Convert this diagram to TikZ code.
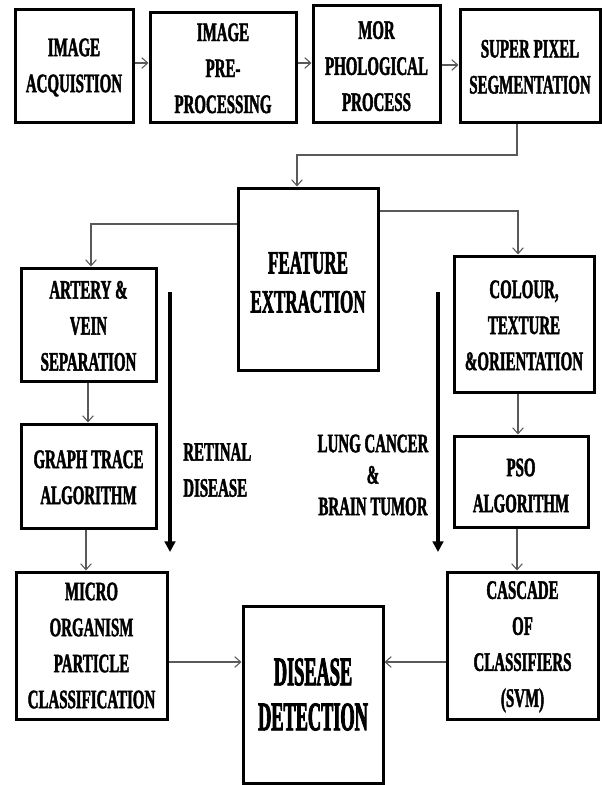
\documentclass[tikz,border=0pt]{standalone}
\usepackage{fontspec}
\setmainfont{Liberation Serif}[UprightFont={* Bold}, FakeStretch=0.56, FakeBold=1.6]
\newfontfamily\featfont{Liberation Serif}[UprightFont={* Bold}, FakeStretch=0.52, FakeBold=1.8]
\newfontfamily\disfont{Liberation Serif}[UprightFont={* Bold}, FakeStretch=0.45, FakeBold=2]
\usetikzlibrary{arrows.meta,fit}
\tikzset{
  box/.style={draw=black, line width=2.25pt, inner sep=0pt},
  txt/.style={inner sep=0pt, align=center, font=\fontsize{20}{27}\selectfont},
  feattxt/.style={txt, font=\featfont\fontsize{24.5}{29.25}\selectfont},
  distxt/.style={txt, font=\disfont\fontsize{30.5}{33.75}\selectfont},
  conn/.style={draw=black!65, line width=0.8pt, -{Straight Barb[length=4.5pt,width=8pt]}},
  bigarrow/.style={draw=black, line width=2.8pt, -{Triangle[length=8pt,width=8pt]}},
}
\begin{document}
\begin{tikzpicture}[x=0.75pt,y=-0.75pt]
\useasboundingbox (0,0) rectangle (602,785);
% boxes
\node[box, fit={(15,9) (133,122)}] (b1) {};
\node[box, fit={(150,12) (296,122)}] (b2) {};
\node[box, fit={(313,5) (440,122)}] (b3) {};
\node[box, fit={(460,9) (600,122)}] (b4) {};
\node[box, fit={(238,188) (378,370)}] (fe) {};
\node[box, fit={(21,268) (156,381)}] (av) {};
\node[box, fit={(454,256) (594,392)}] (co) {};
\node[box, fit={(21,424) (156,528)}] (gt) {};
\node[box, fit={(16,572) (167,719)}] (mo) {};
\node[box, fit={(454,436) (588,527)}] (pso) {};
\node[box, fit={(447,572) (598,719)}] (cas) {};
\node[box, fit={(243,606) (383,783)}] (dd) {};
% box texts
\node[txt] (b1t) at ([yshift=-1.5pt]b1.center) {IMAGE\\ACQUISTION};
\node[txt] (b2t) at ([yshift=-1pt]b2.center) {IMAGE\\PRE-\\PROCESSING};
\node[txt] (b3t) at ([yshift=-2pt]b3.center) {MOR\\PHOLOGICAL\\PROCESS};
\node[txt] (b4t) at ([yshift=-1pt]b4.center) {SUPER PIXEL\\SEGMENTATION};
\node[feattxt] (fet) at ([yshift=-2.5pt]fe.center) {FEATURE\\EXTRACTION};
\node[txt] (avt) at ([yshift=-1pt]av.center) {ARTERY \&\\VEIN\\SEPARATION};
\node[txt] (cot) at ([yshift=-1pt]co.center) {COLOUR,\\TEXTURE\\\&ORIENTATION};
\node[txt] (gtt) at ([yshift=-1pt]gt.center) {GRAPH TRACE\\ALGORITHM};
\node[txt] (mot) at (mo.center) {MICRO\\ORGANISM\\PARTICLE\\CLASSIFICATION};
\node[txt] (psot) at ([yshift=-3pt]pso.center) {PSO\\ALGORITHM};
\node[txt] (cast) at ([yshift=-1pt]cas.center) {CASCADE\\OF\\CLASSIFIERS\\(SVM)};
\node[distxt] (ddt) at (dd.center) {DISEASE\\DETECTION};
% labels
\node[txt, anchor=west, align=left] (ret) at (183,470) {RETINAL\\DISEASE};
\node[txt, font=\fontsize{20}{23.6}\selectfont] (lung) at (373,475) {LUNG CANCER\\\&\\BRAIN TUMOR};
% bend points
\coordinate (h1) at (0,63);
\coordinate (h2) at (0,65);
\coordinate (k1) at (517,155);
\coordinate (k2) at (297,155);
\coordinate (k3) at (91,224);
\coordinate (k4) at (518,211);
\coordinate (v1) at (88,0);
\coordinate (v2) at (86,0);
\coordinate (v3) at (518,0);
\coordinate (v4) at (517,0);
\coordinate (h3) at (0,662);
% connectors
\draw[conn] (b1.east |- h1) -- (b2.west |- h1);
\draw[conn] (b2.east |- h1) -- (b3.west |- h1);
\draw[conn] (b3.east |- h2) -- (b4.west |- h2);
\draw[conn] (k1 |- b4.south) -- (k1) -- (k2) -- (k2 |- fe.north);
\draw[conn] (fe.west |- k3) -- (k3) -- (k3 |- av.north);
\draw[conn] (fe.east |- k4) -- (k4) -- (k4 |- co.north);
\draw[conn] (v1 |- av.south) -- (v1 |- gt.north);
\draw[conn] (v2 |- gt.south) -- (v2 |- mo.north);
\draw[conn] (v3 |- co.south) -- (v3 |- pso.north);
\draw[conn] (v4 |- pso.south) -- (v4 |- cas.north);
\draw[conn] (mo.east |- h3) -- (dd.west |- h3);
\draw[conn] (cas.west |- h3) -- (dd.east |- h3);
% thick arrows
\coordinate (t1) at (170,292);
\coordinate (t2) at (170,552);
\coordinate (t3) at (438,292);
\coordinate (t4) at (438,552);
\draw[bigarrow] (t1) -- (t2);
\draw[bigarrow] (t3) -- (t4);
\end{tikzpicture}
\end{document}
